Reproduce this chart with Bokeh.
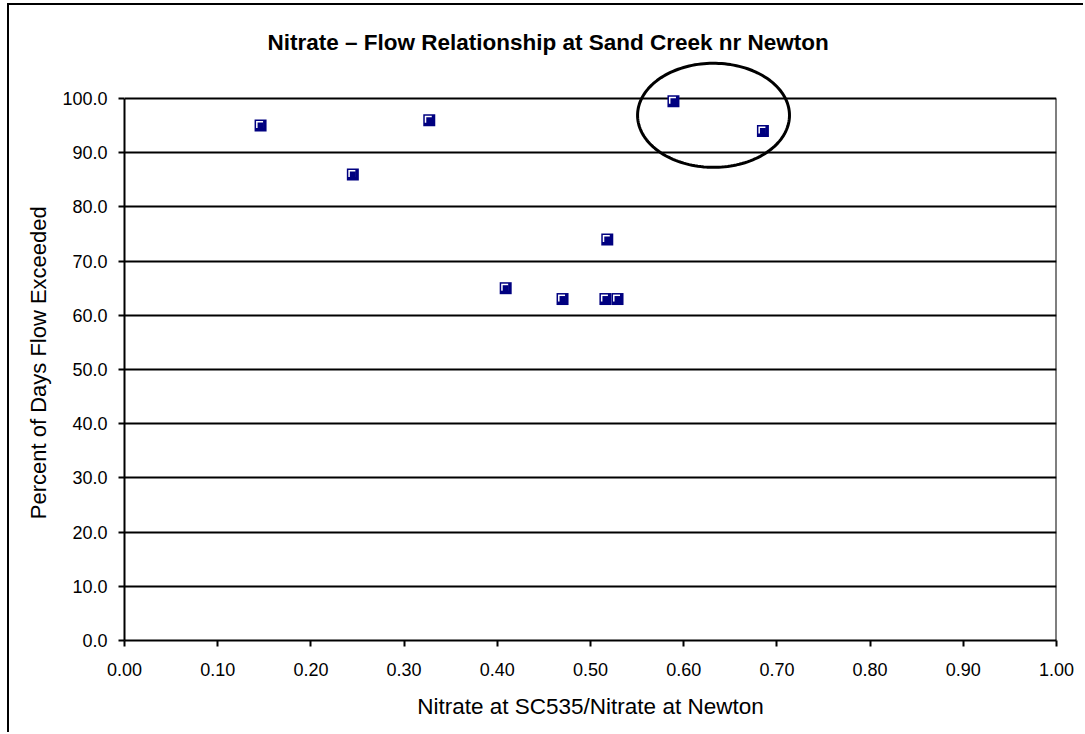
import numpy as np
from bokeh.plotting import figure
from bokeh.models import Range1d, FixedTicker, NumeralTickFormatter, PolyAnnotation
from bokeh.embed import file_html
from bokeh.resources import INLINE

# ---- data ----
ratio = [0.146, 0.245, 0.327, 0.409, 0.470, 0.516, 0.518, 0.529, 0.589, 0.685]
pct_days = [95.0, 86.0, 96.0, 65.0, 63.0, 63.0, 74.0, 63.0, 99.5, 94.0]
x_ticks = [0.0, 0.1, 0.2, 0.3, 0.4, 0.5, 0.6, 0.7, 0.8, 0.9, 1.0]
y_ticks = [0, 10, 20, 30, 40, 50, 60, 70, 80, 90, 100]
y_max = 100.0
x_max = 1.0
# highlighted region (ellipse): center and half-axes in data units
ell_cx, ell_cy, ell_ax, ell_by = 0.632, 96.9, 0.0815, 9.6

TITLE = "Nitrate \u2013 Flow Relationship at Sand Creek nr Newton"
X_LABEL = "Nitrate at SC535/Nitrate at Newton"
Y_LABEL = "Percent of Days Flow Exceeded"
FONT = "Liberation Sans"
NAVY = "#000080"

W, H = 1076, 729
ML, MR, MT, MB = 115, 29, 55, 94
PLOT_TOP = 93          # canvas y of the 100 line
frame_w = W - ML - MR
frame_h = H - MT - MB
plot_h = H - PLOT_TOP - MB
y_end = y_max * frame_h / plot_h   # extra room above 100 so the ellipse isn't clipped

p = figure(width=W, height=H, x_range=Range1d(0, x_max), y_range=Range1d(0, y_end),
           output_backend="svg", toolbar_location=None,
           min_border_left=ML, min_border_right=MR, min_border_top=MT, min_border_bottom=MB)
p.styles = {"margin-left": "7px", "margin-top": "3px",
            "border-left": "2px solid black", "border-top": "2px solid black"}

p.background_fill_color = "white"
p.border_fill_color = "white"
p.outline_line_color = None

# title
p.title.text = TITLE
p.title.text_font = FONT
p.title.text_font_size = "22.5px"
p.title.text_font_style = "bold"
p.title.text_color = "black"
p.title.align = "left"
p.title.offset = 143
p.title.standoff = 12

# grid
p.xgrid.grid_line_color = None
p.ygrid.grid_line_color = "black"
p.ygrid.grid_line_width = 2
p.ygrid.ticker = FixedTicker(ticks=y_ticks)

# axes
for ax in (p.xaxis[0], p.yaxis[0]):
    ax.axis_line_color = "black"
    ax.axis_line_width = 2
    ax.major_tick_line_color = "black"
    ax.major_tick_line_width = 2
    ax.major_tick_out = 6
    ax.major_tick_in = 0
    ax.minor_tick_line_color = None
    ax.major_label_text_font = FONT
    ax.major_label_text_font_size = "18px"
    ax.major_label_text_color = "black"
    ax.axis_label_text_font = FONT
    ax.axis_label_text_font_style = "normal"
    ax.axis_label_text_color = "black"

p.xaxis.ticker = FixedTicker(ticks=x_ticks)
p.xaxis.formatter = NumeralTickFormatter(format="0.00")
p.xaxis.axis_label = X_LABEL
p.xaxis.axis_label_text_font_size = "22.5px"
p.xaxis.major_label_standoff = 16
p.xaxis.axis_label_standoff = 15

p.yaxis.ticker = FixedTicker(ticks=y_ticks)
p.yaxis.formatter = NumeralTickFormatter(format="0.0")
# trailing no-break spaces keep the label centred on the 0-100 area
p.yaxis.axis_label = Y_LABEL + "\u00a0" * 4
p.yaxis.axis_label_text_font_size = "22px"
p.yaxis.major_label_standoff = 11
p.yaxis.axis_label_standoff = 8
p.yaxis.bounds = (0, y_max)

# right border of plot area
p.segment(x0=[x_max], y0=[0], x1=[x_max], y1=[y_max], line_color="black", line_width=2)

# markers: navy square with white top-left highlight (Excel 3D look)
px_x = x_max / frame_w
px_y = y_max / plot_h
hx = [v - 1.0 * px_x for v in ratio]
hy = [v + 1.0 * px_y for v in pct_days]
p.scatter(ratio, pct_days, marker="square", size=12, fill_color=NAVY, line_color=None)
p.scatter(hx, hy, marker="square", size=7, fill_color="white", line_color=None)
p.scatter(ratio, pct_days, marker="square", size=6, fill_color=NAVY, line_color=None)

# ellipse annotation
t = np.linspace(0, 2 * np.pi, 160)
ex = (ell_cx + ell_ax * np.cos(t)).tolist()
ey = (ell_cy + ell_by * np.sin(t)).tolist()
p.add_layout(PolyAnnotation(xs=ex, ys=ey, fill_color=None, fill_alpha=0,
                            line_color="black", line_alpha=1.0, line_width=3))

open("out.html", "w").write(file_html(p, INLINE))
